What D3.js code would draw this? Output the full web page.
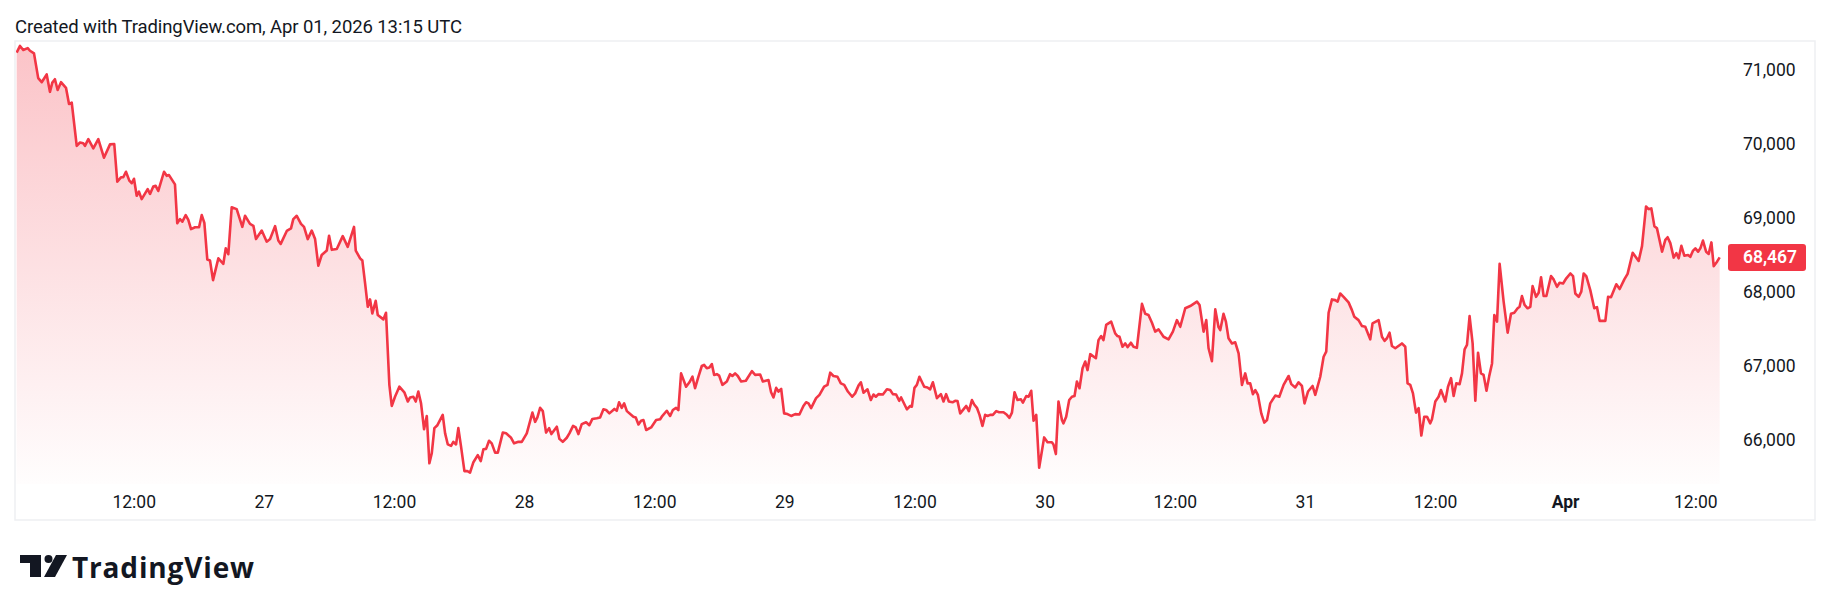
<!DOCTYPE html>
<html>
<head>
<meta charset="utf-8">
<script src="https://cdn.jsdelivr.net/npm/d3@7"></script>
<style>
  html, body { margin: 0; padding: 0; background: #ffffff; }
  svg { display: block; font-family: Roboto, "Noto Sans", sans-serif; }
</style>
</head>
<body>
<div id="chart"></div>
<script>
// hours since 2026-03-26 00:00 UTC
var hours = [1.16,1.47,1.77,2.18,2.39,2.76,3.15,3.47,3.93,4.23,4.45,4.69,4.94,5.25,5.71,5.99,6.24,6.70,7.00,7.30,7.46,7.77,8.23,8.69,9.21,9.77,10.16,10.44,10.78,10.99,11.24,11.55,11.77,11.98,12.23,12.44,12.69,13.24,13.46,13.76,13.98,14.22,14.75,15.00,15.21,15.76,15.97,16.22,16.44,16.75,16.99,17.24,17.61,17.98,18.23,18.47,18.74,18.99,19.27,19.76,20.22,20.44,20.68,20.99,21.45,21.97,22.22,22.68,22.99,23.23,23.76,24.22,24.53,24.99,25.29,25.51,26.07,26.46,26.67,26.99,27.38,27.66,28.00,28.37,28.68,28.98,29.29,29.76,29.97,30.22,30.68,31.23,31.69,32.27,32.43,32.83,33.04,33.29,33.54,33.75,33.96,34.27,34.46,34.98,35.22,35.53,35.75,36.05,36.45,36.91,37.23,37.44,37.74,37.96,38.20,38.45,38.73,38.98,39.22,39.44,39.68,39.96,40.45,40.67,40.92,41.22,41.43,41.68,41.89,42.14,42.45,42.72,42.97,43.28,43.68,43.96,44.20,44.45,44.72,44.97,45.28,45.53,45.99,46.29,46.73,47.03,47.43,47.74,48.20,48.72,48.97,49.18,49.43,49.68,49.98,50.26,50.47,50.97,51.21,51.52,51.89,52.13,52.47,52.72,52.96,53.27,53.67,53.97,54.25,54.66,54.96,55.27,55.52,55.82,56.28,56.50,56.71,56.96,57.18,57.43,57.82,58.03,58.25,58.50,58.74,58.96,59.21,59.67,60.13,60.50,60.65,61.11,61.42,61.67,61.97,62.18,62.43,62.89,63.20,63.48,63.72,64.03,64.34,64.55,64.80,65.04,65.27,65.48,65.73,65.94,66.24,66.65,66.95,67.16,67.41,67.66,67.97,68.40,68.96,69.26,69.72,69.97,70.49,70.73,70.95,71.20,71.41,71.66,71.93,72.24,72.58,72.95,73.34,73.71,73.96,74.18,74.42,74.88,75.19,75.62,75.93,76.18,76.48,76.85,77.16,77.47,77.81,78.21,78.48,78.79,79.01,79.25,79.62,79.93,80.17,80.39,80.63,81.04,81.41,81.71,81.96,82.26,82.54,82.72,83.25,83.56,83.71,83.95,84.17,84.41,84.85,85.15,85.40,85.65,86.02,86.39,86.63,86.87,87.12,87.46,87.70,87.92,88.17,88.56,88.72,88.97,89.25,89.46,89.71,89.95,90.22,90.47,90.68,90.93,91.18,91.49,91.76,92.16,92.47,92.71,92.94,93.18,93.45,93.77,93.95,94.26,94.47,94.72,94.93,95.18,95.45,95.91,96.22,96.62,96.77,96.99,97.23,97.55,97.69,97.94,98.22,98.47,98.71,98.93,99.17,99.45,99.70,99.91,100.16,100.68,100.92,101.17,101.38,101.63,102.09,102.46,102.67,102.86,103.14,103.39,103.60,103.91,104.15,104.46,104.93,105.23,105.53,105.85,106.15,106.46,106.92,107.38,107.78,108.15,108.46,108.92,109.38,110.00,110.24,110.61,110.86,111.07,111.38,111.69,111.99,112.15,112.45,112.67,112.91,113.23,113.53,113.84,114.15,114.45,114.67,114.91,115.16,115.38,115.62,115.93,116.21,116.46,116.76,117.22,117.59,117.99,118.45,118.70,119.06,119.37,119.68,119.92,120.24,120.66,120.91,121.37,121.68,121.92,122.14,122.45,122.75,122.97,123.21,123.52,123.98,124.29,124.51,124.90,125.22,125.52,125.98,126.19,126.75,127.06,127.30,127.52,127.76,127.98,128.29,128.90,129.21,129.42,129.67,129.92,130.20,130.44,130.69,130.96,131.21,131.51,131.67,131.98,132.28,132.50,132.90,133.15,133.43,133.67,133.91,134.22,134.44,134.68,134.90,135.14,135.42,135.67,135.92,136.19,136.43,136.70,136.96,137.21,137.42,137.67,137.91,138.28,138.65,138.96,139.26,139.57,139.75,139.97,140.21,140.49,140.74,140.95,141.27,141.51,141.73,141.97,142.22,142.65,142.89,143.20,143.44,143.76,144.06,144.43,144.68,144.89,145.20,145.44,145.66,145.90,146.27,146.64,146.89,147.13,147.66,147.91,148.18,148.67,148.98,149.41,149.71,150.18,150.73,151.04,151.41,151.65,151.90,152.18,152.42,152.89,153.19,153.40,153.65,153.96,154.21,154.42,154.67,154.94,155.29,155.49,155.75,155.96,156.21,156.42,156.66,156.95,157.19,157.44,157.65,157.96,158.20];

var prices = [71235,71325,71270,71295,71260,71225,70890,70835,70940,70705,70830,70875,70730,70835,70760,70540,70560,69975,70020,70010,69975,70065,69940,70065,69815,69995,70000,69490,69550,69550,69625,69505,69470,69530,69300,69355,69255,69390,69325,69425,69435,69365,69625,69570,69580,69455,68930,68985,68950,69040,68975,68850,68875,68875,69040,68935,68440,68425,68160,68455,68380,68590,68510,69145,69120,68880,69030,68920,68895,68715,68830,68680,68715,68890,68695,68650,68825,68860,68985,69030,68920,68880,68715,68830,68715,68355,68500,68560,68760,68570,68580,68755,68610,68880,68560,68455,68425,68120,67800,67900,67710,67880,67690,67630,67720,66745,66460,66585,66720,66645,66520,66575,66585,66520,66655,66495,66145,66325,65685,65820,66160,66200,66340,66090,65940,65920,65975,65940,66160,65910,65580,65580,65560,65700,65795,65715,65875,65880,65990,65955,65830,65830,66100,66090,66035,65955,65975,65975,66090,66370,66245,66305,66435,66390,66100,66160,66080,66180,66015,65975,66030,66090,66190,66170,66080,66215,66240,66200,66285,66295,66305,66415,66405,66360,66420,66395,66510,66435,66495,66390,66340,66315,66305,66210,66260,66270,66135,66170,66270,66280,66315,66395,66325,66405,66435,66405,66900,66720,66780,66855,66700,66855,67000,67015,66970,66980,67025,66880,66890,66870,66745,66790,66890,66865,66900,66865,66790,66800,66930,66880,66885,66790,66810,66645,66575,66705,66655,66690,66360,66350,66325,66350,66345,66460,66510,66495,66430,66565,66610,66720,66745,66910,66865,66855,66765,66745,66655,66585,66630,66735,66780,66640,66685,66540,66615,66585,66620,66615,66685,66675,66620,66615,66530,66575,66415,66460,66450,66705,66745,66855,66720,66710,66685,66780,66565,66620,66520,66620,66520,66510,66530,66525,66360,66430,66460,66390,66540,66480,66435,66340,66190,66340,66325,66340,66340,66390,66375,66375,66340,66300,66370,66645,66540,66550,66505,66595,66585,66665,66260,66340,65625,66035,65970,65970,65940,65810,66520,66270,66225,66315,66540,66585,66595,66790,66700,66970,67060,66945,67160,67105,67350,67405,67350,67555,67600,67440,67405,67395,67260,67305,67255,67315,67260,67245,67840,67705,67690,67585,67465,67495,67395,67360,67465,67620,67530,67780,67810,67870,67825,67465,67620,67240,67065,67765,67525,67485,67705,67600,67375,67305,67320,67170,66745,66900,66765,66765,66620,66675,66610,66360,66235,66270,66495,66600,66585,66745,66865,66755,66710,66780,66730,66495,66655,66730,66610,66855,67125,67195,67720,67900,67890,67870,67980,67935,67860,67755,67665,67620,67540,67530,67360,67575,67620,67395,67340,67375,67450,67270,67240,67305,67260,66765,66745,66630,66370,66430,66060,66315,66315,66225,66280,66520,66585,66675,66520,66720,66835,66595,66765,66755,66900,67225,67285,67675,67305,66530,67180,66900,66880,66665,66870,67035,67690,67600,68380,67870,67450,67705,67720,67780,67800,67945,67825,67780,67800,68080,67935,67990,68200,67945,67945,68215,68170,68070,68125,68115,68185,68250,68215,67980,67935,68005,68250,68215,68025,67780,67795,67610,67610,67935,67930,68105,68040,68170,68245,68530,68420,68620,69155,69120,69130,68890,68860,68545,68705,68740,68660,68465,68525,68455,68625,68490,68500,68475,68560,68590,68545,68590,68695,68545,68515,68670,68350,68410,68467];

var yTicks = [66000, 67000, 68000, 69000, 70000, 71000];
var xTickTimes = ["2026-03-26T12:00Z","2026-03-27T00:00Z","2026-03-27T12:00Z","2026-03-28T00:00Z","2026-03-28T12:00Z","2026-03-29T00:00Z","2026-03-29T12:00Z","2026-03-30T00:00Z","2026-03-30T12:00Z","2026-03-31T00:00Z","2026-03-31T12:00Z","2026-04-01T00:00Z","2026-04-01T12:00Z"];
var xTickLabels = ["12:00","27","12:00","28","12:00","29","12:00","30","12:00","31","12:00","Apr","12:00"];
var lastPrice = 68467;
var headerText = "Created with TradingView.com, Apr 01, 2026 13:15 UTC";
var brandText = "TradingView";

var W = 1830, H = 611;
var frame = { left: 15, top: 41, right: 1815, bottom: 520 };
var paneRight = 1722, paneBottom = 484;
var red = "#f23645", ink = "#131722";

var start = Date.UTC(2026, 2, 26);
var data = hours.map(function(h, i) {
  return { date: new Date(start + h * 3600e3), price: prices[i] };
});

var svg = d3.select("#chart").append("svg")
  .attr("width", W)
  .attr("height", H);

svg.append("rect").attr("width", W).attr("height", H).attr("fill", "#fff");

var x = d3.scaleUtc()
  .domain([new Date(xTickTimes[0]), new Date(xTickTimes[xTickTimes.length - 1])])
  .range([134.2, 1695.8]);

var y = d3.scaleLinear().domain([66000, 71000]).range([440, 70]);

// header
svg.append("text")
  .attr("x", 15)
  .attr("y", 33)
  .attr("fill", ink)
  .attr("font-size", 18.5)
  .attr("textLength", 447)
  .attr("lengthAdjust", "spacing")
  .text(headerText);

// frame
svg.append("rect")
  .attr("x", frame.left)
  .attr("y", frame.top)
  .attr("width", frame.right - frame.left)
  .attr("height", frame.bottom - frame.top)
  .attr("fill", "none")
  .attr("stroke", "#eeeff2")
  .attr("stroke-width", 1.5);

var defs = svg.append("defs");
var grad = defs.append("linearGradient")
  .attr("id", "areaFill")
  .attr("gradientUnits", "userSpaceOnUse")
  .attr("x1", 0).attr("x2", 0)
  .attr("y1", frame.top).attr("y2", paneBottom);
grad.append("stop").attr("offset", "0%").attr("stop-color", red).attr("stop-opacity", 0.3);
grad.append("stop").attr("offset", "100%").attr("stop-color", red).attr("stop-opacity", 0.01);

defs.append("clipPath").attr("id", "pane")
  .append("rect")
  .attr("x", frame.left + 1)
  .attr("y", frame.top + 1)
  .attr("width", paneRight - frame.left - 1)
  .attr("height", paneBottom - frame.top - 1);

var plot = svg.append("g").attr("clip-path", "url(#pane)");

var area = d3.area()
  .x(function(d) { return x(d.date); })
  .y0(paneBottom)
  .y1(function(d) { return y(d.price); });

var line = d3.line()
  .x(function(d) { return x(d.date); })
  .y(function(d) { return y(d.price); });

plot.append("path")
  .datum(data)
  .attr("d", area)
  .attr("fill", "url(#areaFill)");

plot.append("path")
  .datum(data)
  .attr("d", line)
  .attr("fill", "none")
  .attr("stroke", red)
  .attr("stroke-width", 2.6)
  .attr("stroke-linejoin", "round");

// price scale
var yAxis = svg.append("g").attr("class", "y axis");
yAxis.selectAll("text")
  .data(yTicks)
  .enter()
  .append("text")
  .attr("x", 1743)
  .attr("y", function(d) { return y(d); })
  .attr("dy", "0.32em")
  .attr("fill", ink)
  .attr("font-size", 17.5)
  .text(d3.format(","));

var last = svg.append("g").attr("transform", "translate(0," + y(lastPrice) + ")");
last.append("rect")
  .attr("x", 1728)
  .attr("y", -13.5)
  .attr("width", 78)
  .attr("height", 27)
  .attr("rx", 3)
  .attr("fill", red);
last.append("text")
  .attr("x", 1743)
  .attr("dy", "0.34em")
  .attr("fill", "#fff")
  .attr("font-size", 17.5)
  .attr("font-weight", 600)
  .text(d3.format(",")(lastPrice));

// time scale
var xAxis = svg.append("g").attr("class", "x axis");
xAxis.selectAll("text")
  .data(xTickTimes)
  .enter()
  .append("text")
  .attr("x", function(d) { return x(new Date(d)); })
  .attr("y", 502)
  .attr("dy", "0.35em")
  .attr("text-anchor", "middle")
  .attr("fill", ink)
  .attr("font-size", 17.5)
  .attr("font-weight", function(d, i) { return xTickLabels[i] === "Apr" ? 700 : 400; })
  .text(function(d, i) { return xTickLabels[i]; });

// brand mark
var logo = svg.append("g").attr("transform", "translate(20,555)");
logo.append("path")
  .attr("d", "M0,0 H21 V22 H10 V8 H0 Z")
  .attr("fill", ink);
logo.append("circle")
  .attr("cx", 28.5)
  .attr("cy", 4)
  .attr("r", 4)
  .attr("fill", ink);
logo.append("path")
  .attr("d", "M36,0 H47 L35,22 H24 Z")
  .attr("fill", ink);

svg.append("text")
  .attr("x", 72)
  .attr("y", 578)
  .attr("fill", ink)
  .attr("font-family", "'Open Sans', Roboto, sans-serif")
  .attr("font-size", 28)
  .attr("font-weight", 700)
  .attr("textLength", 182)
  .attr("lengthAdjust", "spacing")
  .text(brandText);
</script>
</body>
</html>
